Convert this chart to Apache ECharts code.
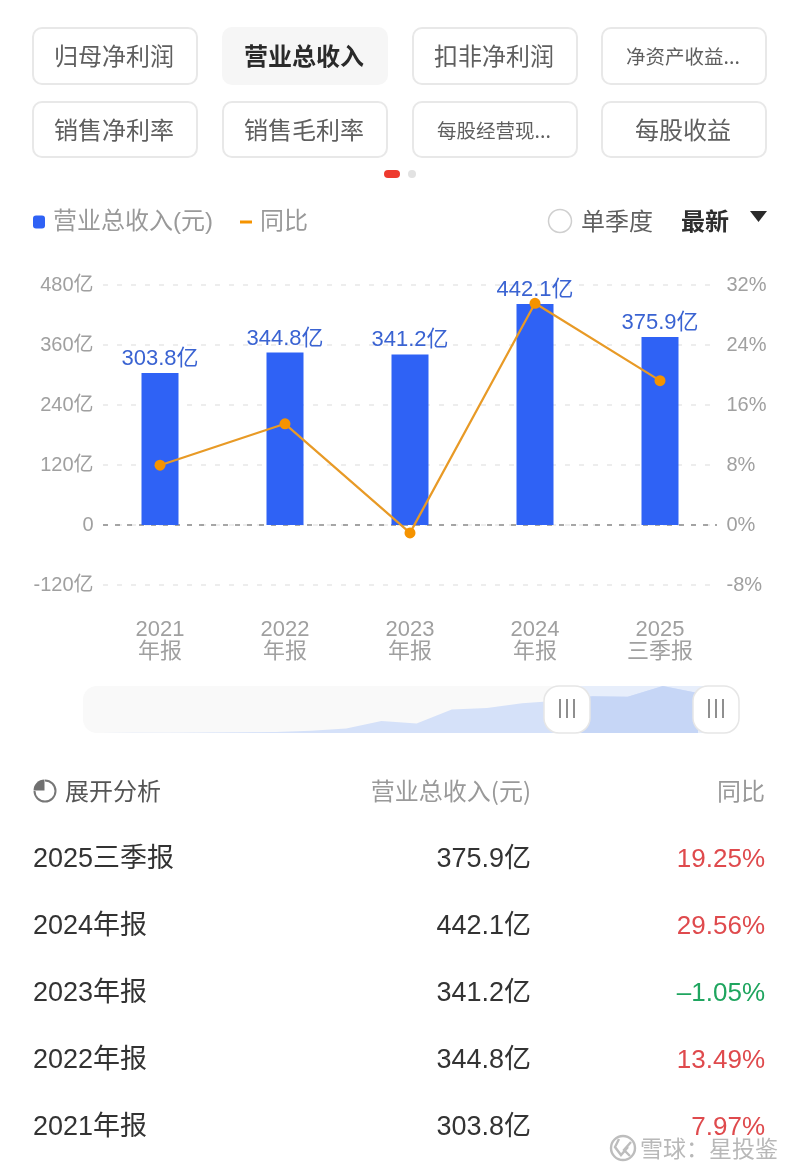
<!DOCTYPE html>
<html><head><meta charset="utf-8">
<style>html,body{margin:0;padding:0;background:#fff}#c{width:800px;height:1174px}</style>
<script src="https://cdn.jsdelivr.net/npm/echarts@6/dist/echarts.min.js"></script>
</head><body><div id="c"></div>
<script>
const categories = ['2021\n年报','2022\n年报','2023\n年报','2024\n年报','2025\n三季报'];
const revenue = [303.8,344.8,341.2,442.1,375.9];
const yoy = [7.97,13.49,-1.05,29.56,19.25];
const historyPeriods = ['2008','2009','2010','2011','2012','2013','2014','2015','2016','2017','2018','2019','2020','2021','2022','2023','2024','2025'];
const historyAll = [1,2,3,4,6,9,20,43,114,89,221,236,281,303.8,344.8,341.2,442.1,375.9];
const selectedHistory = [null,null,null,null,null,null,null,null,null,null,null,null,null,303.8,344.8,341.2,442.1,375.9];
const tabRow1 = ['归母净利润','营业总收入','扣非净利润','净资产收益...'];
const tabRow2 = ['销售净利率','销售毛利率','每股经营现...','每股收益'];
const tableNames = ['2025三季报','2024年报','2023年报','2022年报','2021年报'];
const tableRevenue = ['375.9亿','442.1亿','341.2亿','344.8亿','303.8亿'];
const tableYoy = ['19.25%','29.56%','–1.05%','13.49%','7.97%'];

const FF = '"Liberation Sans","Noto Sans CJK SC",sans-serif';
const CJK = '"Noto Sans CJK SC",sans-serif';
const BLUE = '#2f62f5', ORANGE = '#e89a26';
const g = [];
const txt = (x,y,t,size,fill,o={}) => g.push({type:'text',x,y,z:o.z||10,style:{text:t,font:`${o.w||'normal'} ${size}px ${o.ff||CJK}`,fill,textAlign:o.a||'left',textVerticalAlign:'middle',textShadowColor:o.sc,textShadowBlur:o.sb||0,textShadowOffsetX:o.sx||0,textShadowOffsetY:o.sy||0}});

const colX = [33,223,413,602], bw = 164;
[[tabRow1,28,56],[tabRow2,102,55]].forEach(([row,y,h])=>{
  row.forEach((t,i)=>{
    const active = t==='营业总收入';
    g.push({type:'rect',shape:{x:colX[i],y:y,width:bw,height:h,r:9},z:5,
      style:{fill:active?'#f6f6f6':'#fff',stroke:active?'#f6f6f6':'#e8e8e8',lineWidth:2}});
    const small = t.endsWith('...');
    txt(colX[i]+bw/2-1,y+h/2+(small?1:0),t,small?19.5:24,active?'#2a2a2a':'#5f5f5f',{a:'center',w:active?'bold':'normal'});
  });
});
g.push({type:'rect',shape:{x:384,y:170,width:16,height:8,r:4},style:{fill:'#ee3a2e'}});
g.push({type:'circle',shape:{cx:412,cy:174,r:4},style:{fill:'#e2e2e2'}});
g.push({type:'circle',shape:{cx:560,cy:221,r:11.5},style:{fill:'#fff',stroke:'#cfcfcf',lineWidth:1.5}});
txt(581,221,'单季度',24,'#5f5f5f');
txt(681,221,'最新',24,'#2f2f2f',{w:'bold'});
g.push({type:'polygon',shape:{points:[[750,211],[767,211],[758.5,222]]},style:{fill:'#2a2a2a'}});

// plot edges: grid lines stop short of the category band
g.push({type:'rect',z:3,shape:{x:95,y:280,width:8,height:310},style:{fill:'#fff'}});
g.push({type:'rect',z:3,shape:{x:717,y:280,width:8,height:310},style:{fill:'#fff'}});

// overview slider chrome
g.push({type:'rect',z:-2,shape:{x:83,y:686,width:655,height:47,r:14},style:{fill:'#f9f9f9'}});
g.push({type:'rect',z:-1,shape:{x:567,y:686,width:149,height:47},style:{fill:'#e7eefb'}});
[[567,544],[716,693]].forEach(([c,l])=>{
  g.push({type:'rect',z:20,shape:{x:l,y:686,width:46,height:47,r:15},style:{fill:'#fff',stroke:'#e6e6e6',lineWidth:1.5}});
  [-7,0,7].forEach(d=>g.push({type:'rect',z:21,shape:{x:c+d-1,y:699,width:2,height:19},style:{fill:'#8f8f8f'}}));
});

// table
const iy=791;
g.push({type:'arc',shape:{cx:45,cy:iy,r:10.5,startAngle:-Math.PI/2,endAngle:Math.PI,clockwise:true},style:{fill:'none',stroke:'#777',lineWidth:2}});
g.push({type:'sector',shape:{cx:44.5,cy:iy-.5,r:11,r0:0,startAngle:Math.PI,endAngle:Math.PI*1.5},style:{fill:'#707070'}});
txt(65,791,'展开分析',24,'#555');
txt(531,791,'营业总收入(元)',24,'#999',{a:'right'});
txt(765,791,'同比',24,'#999',{a:'right'});
tableNames.forEach((n,i)=>{
  const y=860+i*67;
  txt(33,y,n,27,'#333',{ff:FF});
  txt(531,y,tableRevenue[i],27,'#333',{a:'right',ff:FF});
  txt(765,y,tableYoy[i],26,tableYoy[i].startsWith('–')?'#1fa55f':'#df4a4d',{a:'right',ff:FF});
});

// watermark
g.push({type:'circle',z:30,shape:{cx:623,cy:1148,r:12},style:{fill:'none',stroke:'#bdbdbd',lineWidth:2.4}});
g.push({type:'polyline',z:30,shape:{points:[[619,1139],[615,1147],[621,1155],[628,1147]]},style:{fill:'none',stroke:'#bdbdbd',lineWidth:2.4}});
g.push({type:'polyline',z:30,shape:{points:[[631,1142],[624,1150],[630,1156]]},style:{fill:'none',stroke:'#bdbdbd',lineWidth:2.4}});
txt(640,1148,'雪球：星投鉴',23,'#b8b8b8',{z:30,sc:'rgba(255,255,255,.9)',sx:1,sy:1});

const chart = echarts.init(document.getElementById('c'),null,{renderer:'canvas'});
chart.setOption({
  animation:false,
  backgroundColor:'#fff',
  textStyle:{fontFamily:FF},
  legend:{left:33,top:210,padding:0,itemGap:27,itemWidth:12,itemHeight:13,selectedMode:false,
    textStyle:{fontSize:24,color:'#999',fontFamily:FF,padding:[0,0,0,3]},
    data:[{name:'营业总收入(元)',icon:'roundRect'},{name:'同比',icon:'path://M0,5 L12,5 L12,8 L0,8 Z'}]},
  grid:[{left:97.5,right:77.5,top:285,height:300},{left:100,width:598,top:686,height:47}],
  xAxis:[
    {type:'category',gridIndex:0,data:categories,axisLine:{show:false,onZero:false},axisTick:{show:false},
      axisLabel:{margin:34,fontSize:22,lineHeight:22,color:'#a0a0a0',fontFamily:FF}},
    {type:'category',gridIndex:1,data:historyPeriods,boundaryGap:false,show:false}
  ],
  yAxis:[
    {type:'value',gridIndex:0,min:-120,max:480,interval:120,axisLine:{show:false},axisTick:{show:false},
      axisLabel:{margin:4,fontSize:20,color:'#a0a0a0',fontFamily:FF,padding:[2,0,0,0],formatter:v=>v===0?'0':v+'亿'},
      splitLine:{lineStyle:{color:'#e8e8e8',type:[5,9],dashOffset:8.5,width:1.5}}},
    {type:'value',gridIndex:0,min:-8,max:32,interval:8,position:'right',axisLine:{show:false},axisTick:{show:false},
      axisLabel:{margin:4,fontSize:20,color:'#a0a0a0',fontFamily:FF,padding:[2,0,0,0],formatter:'{value}%'},splitLine:{show:false}},
    {type:'value',gridIndex:1,min:0,max:442.1,show:false,splitLine:{show:false}}
  ],
  graphic:{elements:g},
  series:[
    {name:'营业总收入(元)',type:'bar',xAxisIndex:0,yAxisIndex:0,data:revenue,barWidth:37,z:4,
      itemStyle:{color:BLUE},
      label:{show:true,position:'top',distance:3,fontSize:22,color:'#3a63d2',fontFamily:FF,formatter:p=>p.value.toFixed(1)+'亿'},
      markLine:{silent:true,symbol:'none',label:{show:false},z:2,
        lineStyle:{color:'#8a8a8a',type:[5,7],dashOffset:6.5,width:1.5},data:[{yAxis:0}]}},
    {name:'同比',type:'line',xAxisIndex:0,yAxisIndex:1,data:yoy,symbol:'circle',symbolSize:11,z:5,
      lineStyle:{color:ORANGE,width:2.2},itemStyle:{color:'#f59300'}},
    {name:'history',type:'line',xAxisIndex:1,yAxisIndex:2,data:historyAll,symbol:'none',silent:true,z:1,
      lineStyle:{width:0},areaStyle:{color:'#d5e1f9',opacity:1}},
    {name:'selected',type:'line',xAxisIndex:1,yAxisIndex:2,data:selectedHistory,symbol:'none',silent:true,z:2,
      lineStyle:{width:0},areaStyle:{color:'#c6d6f6',opacity:1}}
  ]
});
</script></body></html>
